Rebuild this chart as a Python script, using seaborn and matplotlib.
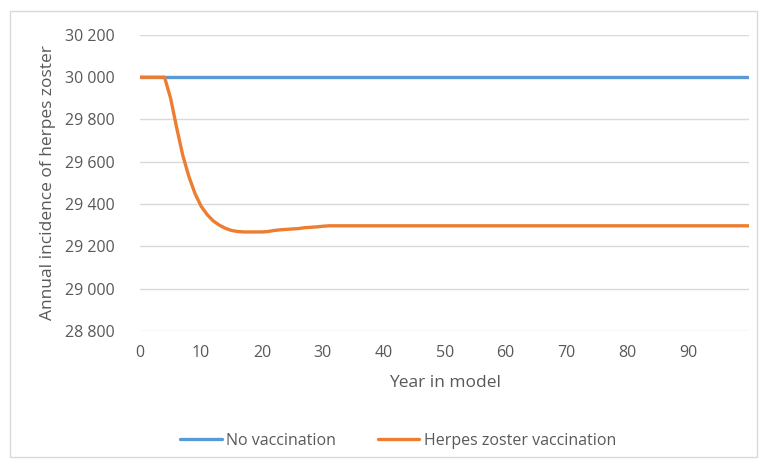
import seaborn as sns
import matplotlib.pyplot as plt
import matplotlib.ticker as mticker
import pandas as pd

years = list(range(0, 101))
no_vacc = [30000] * 101
hz_vacc = ([30000, 30000, 30000, 30000, 30000,
            29900, 29760, 29630, 29530, 29450, 29390, 29350, 29320, 29300, 29285,
            29275, 29270, 29268, 29268, 29268, 29268, 29270, 29275, 29278, 29280,
            29282, 29284, 29288, 29290, 29292, 29295]
           + [29297] * 70)
series_names = ["No vaccination", "Herpes zoster vaccination"]

df = pd.concat([
    pd.DataFrame({"year": years, "value": no_vacc, "series": series_names[0]}),
    pd.DataFrame({"year": years, "value": hz_vacc, "series": series_names[1]}),
])

sns.set_style("white")
plt.rcParams['font.family'] = ['Open Sans', 'DejaVu Sans']
grey = "#595959"

fig = plt.figure(figsize=(7.66, 4.66), dpi=100)
ax = fig.add_axes([0.183, 0.290, 0.795, 0.635])

sns.lineplot(data=df, x="year", y="value", hue="series", palette=["#5B9BD5", "#ED7D31"],
             linewidth=2.4, ax=ax, legend=True)

ax.set_xlim(0, 100)
ax.set_ylim(28800, 30200)
ax.set_xticks(range(0, 100, 10))
ax.set_yticks(range(28800, 30201, 200))
ax.yaxis.set_major_formatter(mticker.FuncFormatter(lambda v, p: f"{int(v):,}".replace(",", " ")))
ax.grid(axis="y", color="#d9d9d9", linewidth=1)
ax.set_axisbelow(True)
for s in ax.spines.values():
    s.set_visible(False)
ax.tick_params(axis="both", length=0, labelsize=11.5, colors=grey)
ax.tick_params(axis="y", pad=18)
ax.tick_params(axis="x", pad=10)
ax.set_xlabel("Year in model", fontsize=12.5, color=grey, labelpad=10)
ax.set_ylabel("Annual incidence of herpes zoster", fontsize=12.5, color=grey, labelpad=7)

handles, labels = ax.get_legend_handles_labels()
ax.legend_.remove()
fig.legend(handles, labels, loc="center", bbox_to_anchor=(0.52, 1 - 441 / 466), ncol=2,
           frameon=False, fontsize=11.5, labelcolor=grey, handlelength=2.6,
           handletextpad=0.3, columnspacing=2.6)

fig.patches.append(plt.Rectangle((10 / 766, 9 / 466), 747 / 766, 446 / 466,
                                 transform=fig.transFigure, fill=False,
                                 edgecolor="#d9d9d9", linewidth=1))

fig.savefig("out.png", dpi=100)
